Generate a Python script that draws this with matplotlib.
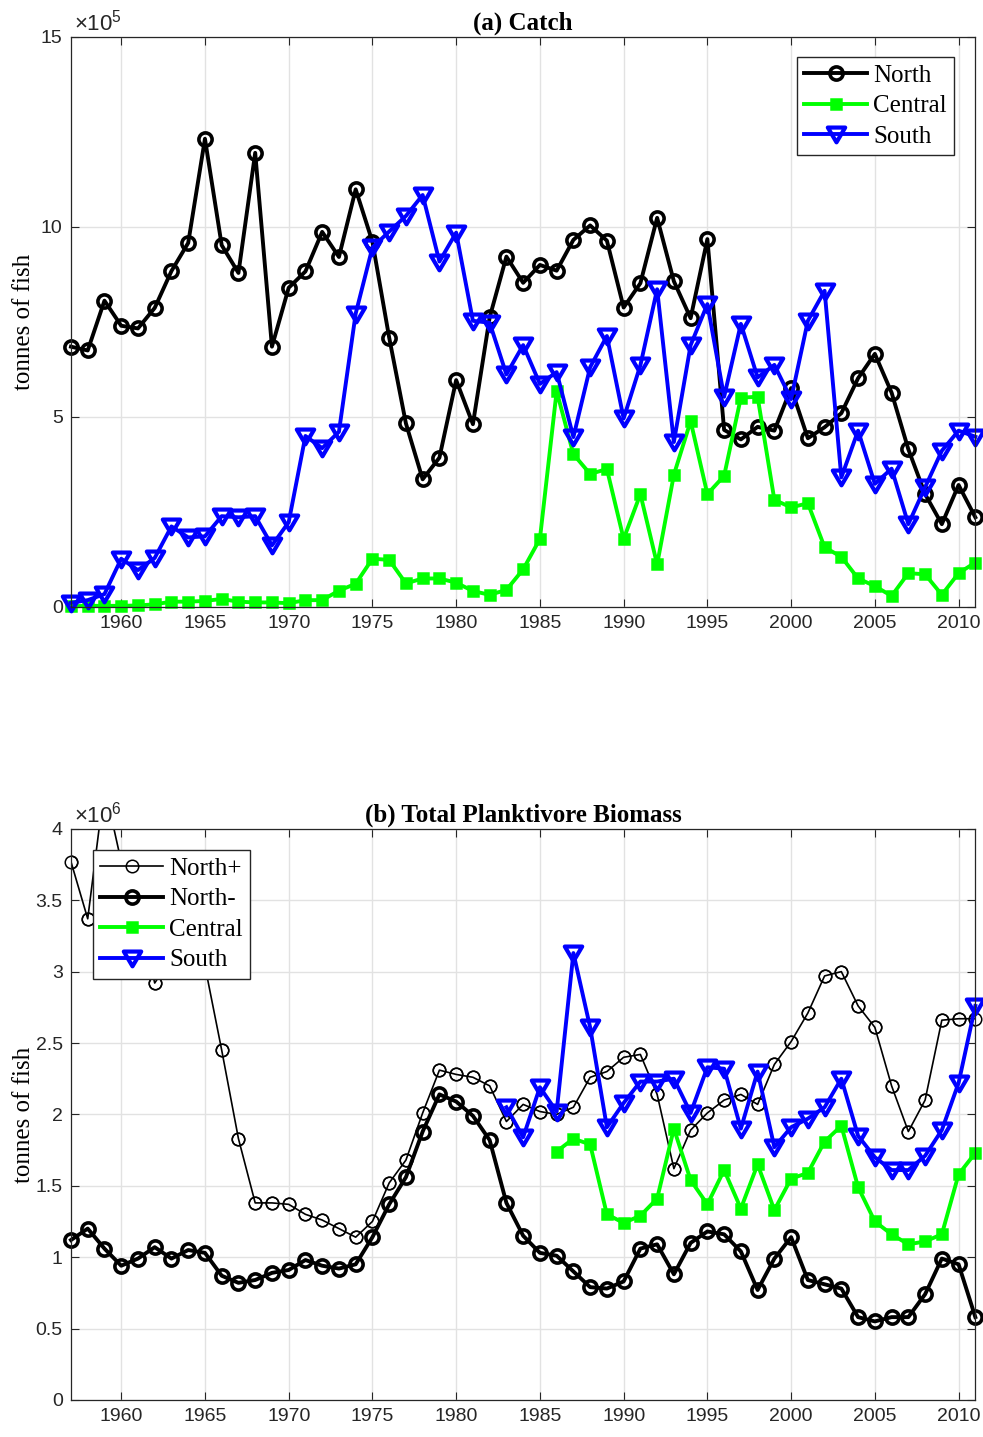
import numpy as np
import matplotlib
matplotlib.use('Agg')
import matplotlib.pyplot as plt
from matplotlib.path import Path

plt.rcParams['font.family'] = 'Liberation Sans'
plt.rcParams['mathtext.fontset'] = 'custom'
plt.rcParams['mathtext.rm'] = 'Liberation Sans'
plt.rcParams['mathtext.it'] = 'Liberation Sans:italic'

years = np.arange(1957, 2012)

# catch, in units of 1e5 tonnes
catch_north = [6.85, 6.75, 8.06, 7.40, 7.33, 7.87, 8.84, 9.58, 12.32, 9.52,
               8.79, 11.95, 6.85, 8.40, 8.83, 9.87, 9.21, 10.99, 9.61, 7.09,
               4.83, 3.36, 3.93, 5.97, 4.81, 7.62, 9.22, 8.53, 9.00, 8.85,
               9.66, 10.04, 9.64, 7.88, 8.52, 10.24, 8.57, 7.60, 9.68, 4.66,
               4.41, 4.74, 4.64, 5.76, 4.44, 4.73, 5.10, 6.02, 6.66, 5.64,
               4.15, 2.97, 2.18, 3.21, 2.36]
catch_central = [0.02, 0.03, 0.03, 0.03, 0.04, 0.07, 0.14, 0.14, 0.16, 0.21,
                 0.14, 0.12, 0.12, 0.10, 0.18, 0.18, 0.43, 0.61, 1.27, 1.24,
                 0.62, 0.75, 0.75, 0.64, 0.42, 0.32, 0.45, 0.99, 1.79, 5.68,
                 4.02, 3.50, 3.63, 1.79, 2.97, 1.12, 3.48, 4.89, 2.97, 3.45,
                 5.51, 5.53, 2.82, 2.62, 2.73, 1.57, 1.32, 0.75, 0.55, 0.29,
                 0.89, 0.86, 0.32, 0.89, 1.17]
catch_south = [0.11, 0.18, 0.34, 1.27, 0.97, 1.29, 2.12, 1.83, 1.86, 2.39,
               2.36, 2.39, 1.62, 2.23, 4.50, 4.18, 4.61, 7.72, 9.46, 9.88,
               10.29, 10.84, 9.09, 9.85, 7.53, 7.48, 6.12, 6.89, 5.87, 6.18,
               4.47, 6.31, 7.13, 4.96, 6.36, 8.36, 4.34, 6.89, 7.97, 5.53,
               7.45, 6.04, 6.37, 5.47, 7.53, 8.32, 3.41, 4.64, 3.24, 3.64,
               2.18, 3.15, 4.11, 4.64, 4.48]

# planktivore biomass, in units of 1e6 tonnes
bio_north_plus = [3.77, 3.37, 4.30, 3.77, 3.45, 2.92, 3.10, 3.20, 3.04, 2.45,
                  1.83, 1.38, 1.38, 1.37, 1.30, 1.26, 1.20, 1.14, 1.25, 1.52,
                  1.68, 2.01, 2.31, 2.28, 2.26, 2.20, 1.95, 2.07, 2.02, 2.00,
                  2.05, 2.26, 2.30, 2.40, 2.42, 2.14, 1.62, 1.89, 2.01, 2.10,
                  2.14, 2.07, 2.35, 2.51, 2.71, 2.97, 3.00, 2.76, 2.61, 2.20,
                  1.88, 2.10, 2.66, 2.67, 2.67]
bio_north_minus = [1.12, 1.20, 1.06, 0.94, 0.99, 1.07, 0.99, 1.05, 1.03, 0.87,
                   0.82, 0.84, 0.89, 0.91, 0.98, 0.94, 0.92, 0.95, 1.14, 1.37,
                   1.56, 1.88, 2.14, 2.09, 1.99, 1.82, 1.38, 1.15, 1.03, 1.01,
                   0.90, 0.79, 0.78, 0.83, 1.06, 1.09, 0.88, 1.10, 1.18, 1.16,
                   1.04, 0.77, 0.99, 1.14, 0.84, 0.81, 0.78, 0.58, 0.55, 0.58,
                   0.58, 0.74, 0.99, 0.95, 0.58]
years_bio_central = np.arange(1986, 2012)
bio_central = [1.74, 1.83, 1.79, 1.30, 1.24, 1.29, 1.41, 1.90, 1.54, 1.37,
               1.61, 1.34, 1.65, 1.33, 1.55, 1.59, 1.81, 1.92, 1.49, 1.25,
               1.16, 1.09, 1.11, 1.16, 1.58, 1.73]
years_bio_south = np.arange(1983, 2012)
bio_south = [2.05, 1.84, 2.19, 2.02, 3.13, 2.61, 1.91, 2.08, 2.23, 2.23,
             2.25, 2.01, 2.33, 2.32, 1.90, 2.30, 1.77, 1.91, 1.97, 2.05,
             2.25, 1.85, 1.70, 1.61, 1.61, 1.71, 1.89, 2.22, 2.76]

# downward triangle a bit wider than tall
tri_down = Path([(-1, 0.8), (1, 0.8), (0, -0.9), (-1, 0.8)],
                [Path.MOVETO, Path.LINETO, Path.LINETO, Path.CLOSEPOLY])

GREEN = (0, 1, 0)
BLUE = (0, 0, 1)
AXCOL = '#262626'
LW = 2.8

# markers sitting on the axes edges are drawn whole, not clipped
thick_circle = dict(color='k', lw=LW, marker='o', ms=9.5, mew=2.6, mfc='none', clip_on=False)
green_sq = dict(color=GREEN, lw=LW, marker='s', ms=7, mew=1.8, mfc=GREEN, clip_on=False)
blue_tri = dict(color=BLUE, lw=LW, marker=tri_down, ms=12.5, mew=3.0, mfc='none', clip_on=False)
leg_opts = dict(prop={'family': 'Liberation Serif', 'size': 18}, numpoints=1,
                handlelength=2.5, handletextpad=0.25, labelspacing=0.32,
                borderpad=0.3, borderaxespad=0, fancybox=False, framealpha=1,
                edgecolor=AXCOL)


def style_axes(ax, ymax, ystep, exponent, title):
    ax.set_xlim(1957, 2011)
    ax.set_ylim(0, ymax)
    ax.set_xticks(np.arange(1960, 2011, 5))
    yt = np.arange(0, ymax + 1e-9, ystep)
    ax.set_yticks(yt)
    ax.set_yticklabels(['%g' % v for v in yt])
    ax.tick_params(direction='in', top=True, right=True, length=6,
                   width=0.8, labelsize=14, colors=AXCOL, pad=6)
    for sp in ax.spines.values():
        sp.set_color(AXCOL)
        sp.set_linewidth(0.9)
    ax.grid(True, color='#e2e2e2', lw=1)
    ax.set_axisbelow(True)
    ax.text(0.003, 1.003, r'$\times10^{%d}$' % exponent, transform=ax.transAxes,
            ha='left', va='bottom', fontsize=16, color=AXCOL)
    ax.set_title(title, fontsize=18, fontweight='bold', family='Liberation Serif', pad=5)
    ax.set_ylabel('tonnes of fish', fontsize=18, family='Liberation Serif')
    ax.yaxis.set_label_coords(-0.04, 0.5)


fig = plt.figure(figsize=(9.83, 14.37), dpi=100)
ax1 = fig.add_axes([0.0722, 0.5776, 0.92, 0.3967])
ax2 = fig.add_axes([0.0722, 0.0258, 0.92, 0.3974])

# (a) catch
ax1.plot(years, catch_north, label='North', **thick_circle)
ax1.plot(years, catch_central, label='Central', **green_sq)
ax1.plot(years, catch_south, label='South', **blue_tri)
style_axes(ax1, 15, 5, 5, '(a) Catch')
ax1.legend(loc='upper right', bbox_to_anchor=(1 - 21 / 904, 1 - 20 / 570), **leg_opts)

# (b) total planktivore biomass
bnp = np.array(bio_north_plus)
ax2.plot(years, bnp, color='k', lw=1.2, marker='o', ms=9, mew=1.1,
         mfc='none', label='North+')
inside = bnp <= 4
ax2.plot(years[inside], bnp[inside], ls='none', color='k', marker='o', ms=9,
         mew=1.1, mfc='none', clip_on=False)
ax2.plot(years, bio_north_minus, label='North-', **thick_circle)
ax2.plot(years_bio_central, bio_central, label='Central', **green_sq)
ax2.plot(years_bio_south, bio_south, label='South', **blue_tri)
style_axes(ax2, 4, 0.5, 6, '(b) Total Planktivore Biomass')
ax2.legend(loc='upper left', bbox_to_anchor=(22 / 904, 1 - 21 / 571), **leg_opts)

fig.savefig('out.png', dpi=100)
